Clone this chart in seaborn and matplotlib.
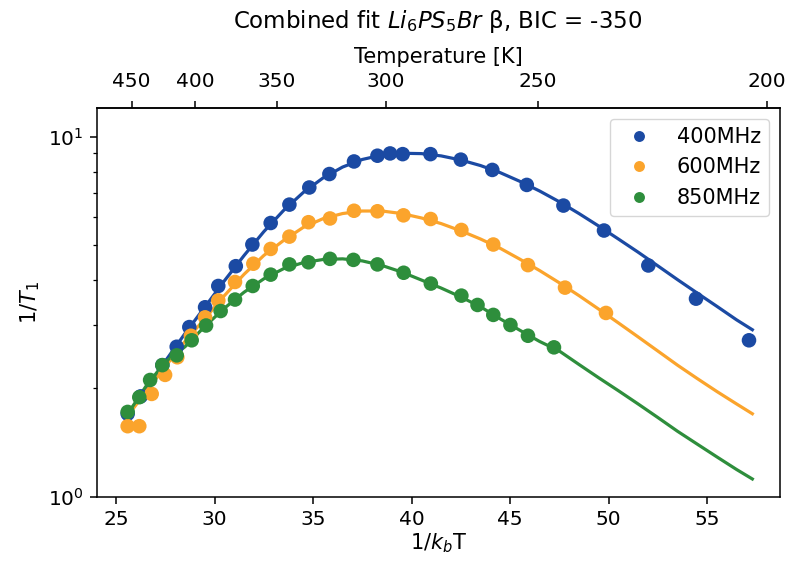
import numpy as np
import pandas as pd
import matplotlib
matplotlib.use("Agg")
import matplotlib.pyplot as plt
import seaborn as sns

KB = 8.617e-5  # eV/K

FREQS = ["400MHz", "600MHz", "850MHz"]
COLORS = ["#1b4aa3", "#fba42c", "#2e8e3c"]

# measured points, x = 1/kbT
x_400 = [25.59, 26.25, 27.35, 28.08, 28.72, 29.52, 30.19, 31.08, 31.92, 32.85, 33.80, 34.81,
         35.83, 37.08, 38.27, 38.91, 39.55, 40.96, 42.50, 44.10, 45.85, 47.71, 49.77, 52.02,
         54.44, 57.13]
y_400 = [1.70, 1.90, 2.32, 2.61, 2.96, 3.36, 3.85, 4.37, 5.02, 5.76, 6.48, 7.23,
         7.88, 8.54, 8.86, 8.99, 8.95, 8.95, 8.64, 8.09, 7.35, 6.44, 5.49, 4.39,
         3.55, 2.72]

x_600 = [25.59, 26.18, 26.81, 27.49, 28.11, 28.80, 29.52, 30.19, 31.04, 31.97, 32.85, 33.80,
         34.77, 35.86, 37.08, 38.27, 39.59, 40.97, 42.53, 44.15, 45.91, 47.79, 49.87]
y_600 = [1.57, 1.57, 1.93, 2.18, 2.44, 2.80, 3.15, 3.51, 3.95, 4.44, 4.88, 5.28,
         5.79, 5.93, 6.23, 6.21, 6.05, 5.91, 5.51, 5.02, 4.40, 3.81, 3.24]

x_850 = [25.59, 26.18, 26.73, 27.35, 28.08, 28.84, 29.57, 30.31, 31.04, 31.94, 32.85, 33.80,
         34.77, 35.86, 37.05, 38.27, 39.60, 40.98, 42.53, 43.35, 44.15, 45.02, 45.91, 47.23]
y_850 = [1.72, 1.89, 2.11, 2.32, 2.47, 2.72, 2.99, 3.28, 3.53, 3.85, 4.14, 4.42,
         4.48, 4.58, 4.55, 4.42, 4.19, 3.91, 3.62, 3.41, 3.20, 3.00, 2.80, 2.60]

# fitted curves
fit_x = [25.6, 26.5, 27.5, 28.5, 29.5, 30.5, 31.5, 32.5, 33.5, 34.5, 35.5, 36.5, 37.5,
         38.5, 39.5, 40.5, 41.5, 42.5, 43.5, 44.5, 45.5, 46.5, 47.5, 48.5, 49.5, 50.5,
         51.5, 52.5, 53.5, 54.5, 55.5, 56.5, 57.3]
fit_400 = [1.70, 1.98, 2.38, 2.84, 3.36, 3.98, 4.68, 5.45, 6.24, 7.00, 7.68, 8.24, 8.65,
           8.90, 9.00, 8.98, 8.85, 8.62, 8.32, 7.95, 7.52, 7.07, 6.60, 6.12, 5.65, 5.20,
           4.78, 4.38, 4.01, 3.68, 3.38, 3.10, 2.91]
fit_600 = [1.68, 1.95, 2.30, 2.70, 3.12, 3.62, 4.15, 4.68, 5.15, 5.60, 5.92, 6.12, 6.22,
           6.22, 6.12, 5.95, 5.74, 5.48, 5.20, 4.90, 4.57, 4.25, 3.93, 3.62, 3.32, 3.04,
           2.78, 2.54, 2.32, 2.13, 1.96, 1.81, 1.70]
fit_850 = [1.70, 2.02, 2.37, 2.61, 2.97, 3.34, 3.70, 4.03, 4.30, 4.47, 4.56, 4.58, 4.52,
           4.39, 4.21, 4.00, 3.80, 3.59, 3.37, 3.12, 2.90, 2.70, 2.54, 2.33, 2.14, 1.97,
           1.81, 1.66, 1.52, 1.40, 1.29, 1.19, 1.12]

pts = pd.concat([
    pd.DataFrame({"x": x_400, "y": y_400, "freq": "400MHz"}),
    pd.DataFrame({"x": x_600, "y": y_600, "freq": "600MHz"}),
    pd.DataFrame({"x": x_850, "y": y_850, "freq": "850MHz"}),
])
fits = pd.concat([
    pd.DataFrame({"x": fit_x, "y": fit_400, "freq": "400MHz"}),
    pd.DataFrame({"x": fit_x, "y": fit_600, "freq": "600MHz"}),
    pd.DataFrame({"x": fit_x, "y": fit_850, "freq": "850MHz"}),
])

plt.rcParams.update({
    "axes.linewidth": 1.1,
    "xtick.major.size": 4.8, "ytick.major.size": 4.8,
    "xtick.major.width": 1.1, "ytick.major.width": 1.1,
    "ytick.minor.size": 2.8, "ytick.minor.width": 0.9,
    "xtick.major.pad": 4.5, "ytick.major.pad": 4.5,
})

fig = plt.figure(figsize=(7.89, 5.62), dpi=100)
ax = fig.add_axes([0.1226, 0.1162, 0.8654, 0.6911])

palette = dict(zip(FREQS, COLORS))
sns.lineplot(data=fits, x="x", y="y", hue="freq", palette=palette, linewidth=2.3,
             legend=False, ax=ax, sort=False)
sns.scatterplot(data=pts, x="x", y="y", hue="freq", palette=palette, s=110,
                linewidth=0, ax=ax, zorder=3)

ax.set_yscale("log")
ax.set_ylim(1, 12)
ax.set_xlim(24.02, 58.68)
ax.set_xticks([25, 30, 35, 40, 45, 50, 55])
ax.tick_params(labelsize=14.5)
ax.set_xlabel("1/$k_b$T", fontsize=15, labelpad=2)
ax.set_ylabel("1/$T_1$", fontsize=15)

leg = ax.legend(loc="upper right", fontsize=15, markerscale=0.75, title=None)

# top axis in Kelvin
secax = ax.secondary_xaxis("top", functions=(lambda x: 1 / (KB * x), lambda t: 1 / (KB * t)))
secax.set_xticks([450, 400, 350, 300, 250, 200])
secax.set_xticklabels(["450", "400", "350", "300", "250", "200"])
secax.minorticks_off()
secax.tick_params(labelsize=14.5, pad=7.5)
secax.set_xlabel("Temperature [K]", fontsize=15, labelpad=6.5)

fig.text(0.555, 0.961, "Combined fit $Li_6PS_5Br$ β, BIC = -350", fontsize=16.5,
         ha="center", va="center")

fig.savefig("out.png", dpi=100)
